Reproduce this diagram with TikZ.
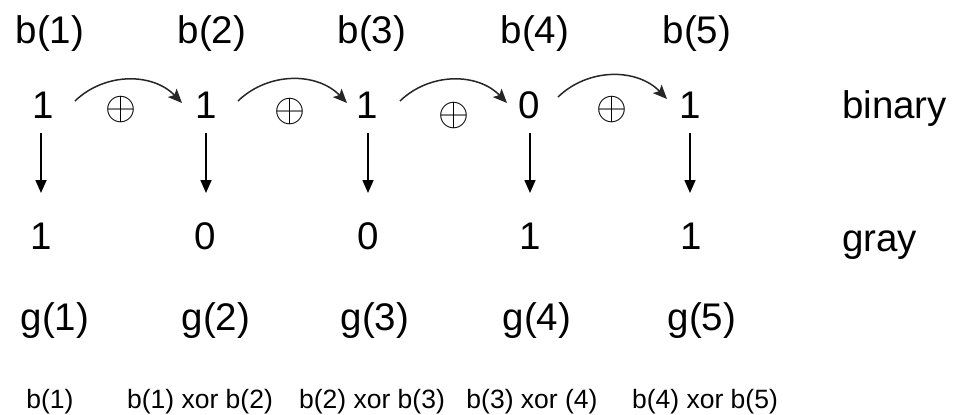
\documentclass[tikz,border=0pt]{standalone}
\usepackage{fontspec}
\usepackage{graphicx}
\setmainfont{Liberation Sans}
\usetikzlibrary{arrows.meta}
\newcommand{\xorglyph}{\resizebox{31pt}{!}{$\oplus$}}
\begin{document}
\begin{tikzpicture}[x=1pt,y=-1pt,
  big/.style={font=\fontsize{38.5}{41}\selectfont, inner sep=0pt, anchor=base},
  small/.style={font=\fontsize{26.5}{29}\selectfont, inner sep=0pt, anchor=base},
  xorsym/.style={inner sep=0pt},
  downarrow/.style={line width=1.6pt, -{Triangle[length=13pt,width=11pt]}},
  curarrow/.style={line width=1.5pt, draw=black!85, -{Stealth[length=14pt,width=12pt,inset=3pt]}}]
\useasboundingbox (0,0) rectangle (954,415);
% top labels
\foreach \i/\x in {1/50,2/212,3/372,4/535,5/697}
  \node[big] (bl\i) at (\x,43) {b(\i)};
% binary digits
\foreach \i/\x/\v in {1/43/1,2/206/1,3/367/1,4/529/0,5/690/1}
  \node[big] (bd\i) at (\x,118) {\v};
\node[big, anchor=base west] (bin) at (842,118) {binary};
% gray digits
\foreach \i/\x/\v in {1/41/1,2/205/0,3/368/0,4/530/1,5/691/1}
  \node[big] (gd\i) at (\x,249) {\v};
\node[big, anchor=base west] (gry) at (842,251) {gray};
% g labels
\foreach \i/\x in {1/55,2/216,3/375,4/537,5/702}
  \node[big] (gl\i) at (\x,330) {g(\i)};
% bottom expressions
\node[small] (e1) at (50,408) {b(1)};
\node[small] (e2) at (200,408) {b(1) xor b(2)};
\node[small] (e3) at (372,408) {b(2) xor b(3)};
\node[small] (e4) at (532,408) {b(3) xor (4)};
\node[small] (e5) at (705,408) {b(4) xor b(5)};
% down arrows
\foreach \i/\x in {1/41,2/206,3/368,4/530,5/690} {
  \coordinate (dt\i) at (\x,133);
  \coordinate (db\i) at (\x,193);
  \draw[downarrow] (dt\i) -- (db\i);
}
% curved arrows
\coordinate (s1) at (75,101);  \coordinate (t1) at (182,103);
\coordinate (s2) at (238,101); \coordinate (t2) at (347,103);
\coordinate (s3) at (400,101); \coordinate (t3) at (507,103);
\coordinate (s4) at (558,97);  \coordinate (t4) at (667,99);
\foreach \i in {1,2,3,4}
  \draw[curarrow] (s\i) to[bend left=45] (t\i);
% xor symbols
\node[xorsym] (x1) at (121,110) {\xorglyph};
\node[xorsym] (x2) at (290,112) {\xorglyph};
\node[xorsym] (x3) at (454,116) {\xorglyph};
\node[xorsym] (x4) at (612,110) {\xorglyph};
\end{tikzpicture}
\end{document}
